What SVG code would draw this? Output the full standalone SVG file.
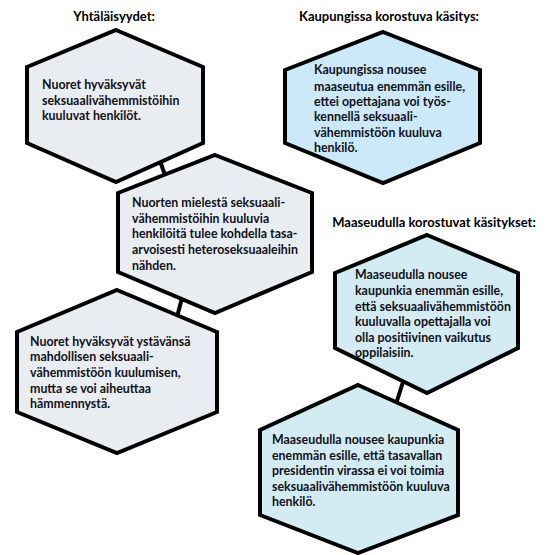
<svg xmlns="http://www.w3.org/2000/svg" width="549" height="555" viewBox="0 0 549 555">
<style>
.hex{stroke:#000;stroke-width:4;stroke-linejoin:miter}
.g{fill:#E9EDF2}
.b1{fill:#CBE9F9}
.b2{fill:#D3EBF3}
.conn{stroke:#000;stroke-width:4;fill:none}
.t{font-family:Lato,"Liberation Sans",sans-serif;font-weight:bold;font-size:12.4px;fill:#111118}
.h{font-family:Lato,"Liberation Sans",sans-serif;font-weight:bold;font-size:13px;fill:#000;text-anchor:middle}
</style>
<rect width="549" height="555" fill="#fff"/>
<g id="headings">
<text class="h" x="114" y="21">Yhtäläisyydet:</text>
<text class="h" x="389" y="21">Kaupungissa korostuva käsitys:</text>
<text class="h" x="434" y="227">Maaseudulla korostuvat käsitykset:</text>
</g>
<g id="connectors">
<line class="conn" x1="160" y1="161" x2="165" y2="175"/>
<line class="conn" x1="182" y1="298" x2="177" y2="317"/>
<line class="conn" x1="403" y1="382" x2="396" y2="404"/>
</g>
<g id="node1">
<polygon class="hex g" points="116,30 203,67 203,143 116,182 27,143 27,67"/>
<text class="t" x="42" y="89">Nuoret hyväksyvät</text>
<text class="t" x="42" y="104.5">seksuaalivähemmistöihin</text>
<text class="t" x="42" y="120">kuuluvat henkilöt.</text>
</g>
<g id="node2">
<polygon class="hex g" points="215,155 312,193 312,272 215,313 118,272 118,193"/>
<text class="t" x="132" y="207">Nuorten mielestä seksuaali-</text>
<text class="t" x="132" y="223">vähemmistöihin kuuluvia</text>
<text class="t" x="132" y="238">henkilöitä tulee kohdella tasa-</text>
<text class="t" x="132" y="254">arvoisesti heteroseksuaaleihin</text>
<text class="t" x="132" y="270">nähden.</text>
</g>
<g id="node3">
<polygon class="hex g" points="117,290 217,332 217,412 117,453 17,412 17,332"/>
<text class="t" x="30" y="346">Nuoret hyväksyvät ystävänsä</text>
<text class="t" x="30" y="361">mahdollisen seksuaali-</text>
<text class="t" x="30" y="377">vähemmistöön kuulumisen,</text>
<text class="t" x="30" y="393">mutta se voi aiheuttaa</text>
<text class="t" x="30" y="408">hämmennystä.</text>
</g>
<g id="node4">
<polygon class="hex b1" points="383,32 480,70 480,143 383,183 285,143 285,70"/>
<text class="t" x="314" y="74">Kaupungissa nousee</text>
<text class="t" x="314" y="91">maaseutua enemmän esille,</text>
<text class="t" x="314" y="106">ettei opettajana voi työs-</text>
<text class="t" x="314" y="121">kennellä seksuaali-</text>
<text class="t" x="314" y="137">vähemmistöön kuuluva</text>
<text class="t" x="314" y="152">henkilö.</text>
</g>
<g id="node5">
<polygon class="hex b2" points="427,235 518,273 518,348 427,393 335,348 335,273"/>
<text class="t" x="355" y="279">Maaseudulla nousee</text>
<text class="t" x="355" y="295">kaupunkia enemmän esille,</text>
<text class="t" x="355" y="311">että seksuaalivähemmistöön</text>
<text class="t" x="355" y="326">kuuluvalla opettajalla voi</text>
<text class="t" x="355" y="342">olla positiivinen vaikutus</text>
<text class="t" x="355" y="357">oppilaisiin.</text>
</g>
<g id="node6">
<polygon class="hex b2" points="358,385 458,430 458,515 358,553 260,515 260,430"/>
<text class="t" x="272" y="444">Maaseudulla nousee kaupunkia</text>
<text class="t" x="272" y="460">enemmän esille, että tasavallan</text>
<text class="t" x="272" y="475">presidentin virassa ei voi toimia</text>
<text class="t" x="272" y="491">seksuaalivähemmistöön kuuluva</text>
<text class="t" x="272" y="506">henkilö.</text>
</g>
</svg>
